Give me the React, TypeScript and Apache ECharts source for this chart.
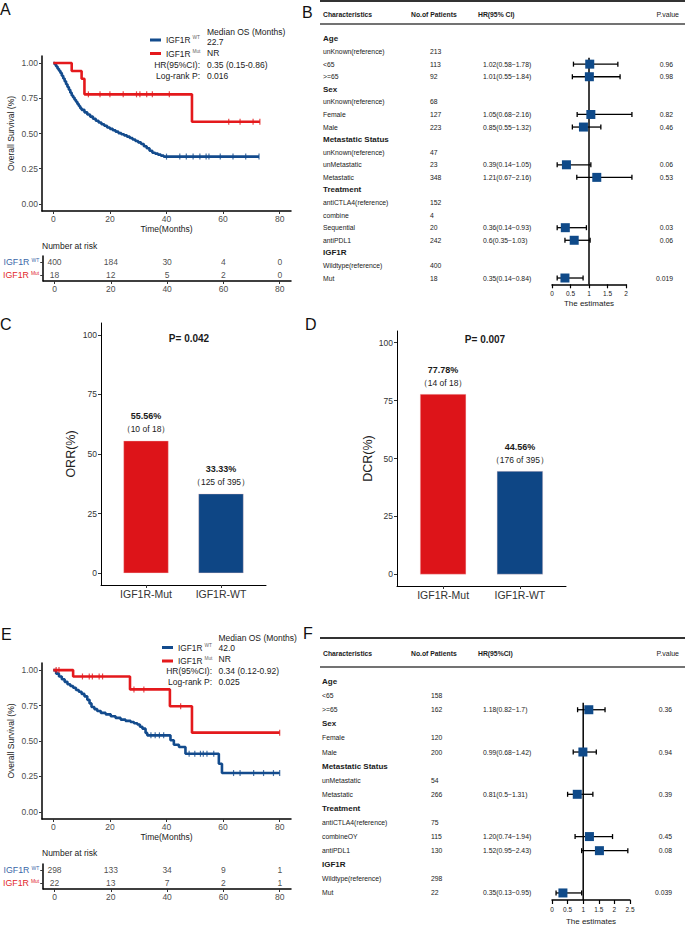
import React, { useEffect, useRef } from "react";
import * as echarts from "echarts";

const FONT = '"Liberation Sans", Arial, Helvetica, sans-serif';
const BLUE = "#134B8D";
const RED = "#E4191C";
const BOX = "#0F4A89";
const INK = "#1a1a1a";
const GREY = "#4d4d4d";
const RISK_BLUE = "#3A67A7";
const RISK_RED = "#E2262A";

// ---------- Panel A (KM) ----------
const aWTTime = [0, 0.5, 1, 1.5, 2, 2.5, 3, 3.5, 4, 4.5, 5, 5.5, 6, 6.5, 7, 7.5, 8, 8.5, 9, 9.5, 10, 11, 12, 13, 14, 15, 16, 17, 18, 19, 20, 21, 22, 23, 24, 25, 26, 27, 28, 29, 30, 31, 32, 33, 34, 35, 36, 37, 38, 39, 72.7];
const aWTSurv = [1, 0.99, 0.975, 0.96, 0.945, 0.93, 0.91, 0.89, 0.87, 0.85, 0.83, 0.81, 0.79, 0.77, 0.755, 0.74, 0.725, 0.71, 0.695, 0.68, 0.668, 0.65, 0.635, 0.62, 0.605, 0.59, 0.578, 0.566, 0.555, 0.543, 0.533, 0.523, 0.513, 0.503, 0.495, 0.487, 0.478, 0.468, 0.457, 0.447, 0.437, 0.425, 0.41, 0.395, 0.378, 0.363, 0.357, 0.35, 0.343, 0.336, 0.336];
const aMutTime = [0, 6.5, 10, 11, 49, 73];
const aMutSurv = [1, 0.944, 0.889, 0.778, 0.583, 0.583];
const aWTCensorT = [40, 44.7, 47, 49.4, 51.8, 54, 55, 59, 63.5, 68, 72.7];
const aWTCensorS = [0.336, 0.336, 0.336, 0.336, 0.336, 0.336, 0.336, 0.336, 0.336, 0.336, 0.336];
const aMutCensorT = [12.4, 16.5, 20, 24.7, 29.4, 30.6, 33, 35, 41, 62, 66, 70.6, 73];
const aMutCensorS = [0.778, 0.778, 0.778, 0.778, 0.778, 0.778, 0.778, 0.778, 0.778, 0.583, 0.583, 0.583, 0.583];
const riskTimes = [0, 20, 40, 60, 80];
const aRiskWT = [400, 184, 30, 4, 0];
const aRiskMut = [18, 12, 5, 2, 0];
const aMedian = ["22.7", "NR"];
const aHR = "0.35 (0.15-0.86)";
const aLogRank = "0.016";

// ---------- Panel E (KM) ----------
const eWTTime = [0, 1, 2, 3, 4, 5, 6, 7, 8, 9, 10, 11, 12, 12.8, 13.5, 14.5, 15.5, 16.8, 18.5, 20.3, 22, 23.8, 25.5, 27.3, 28.5, 29.7, 30.6, 31.5, 32.6, 33.2, 41.4, 42.6, 44.4, 46.7, 58.5, 59.6, 80];
const eWTSurv = [1, 0.975, 0.955, 0.935, 0.917, 0.9, 0.888, 0.875, 0.86, 0.847, 0.832, 0.815, 0.79, 0.765, 0.74, 0.725, 0.712, 0.698, 0.688, 0.675, 0.663, 0.651, 0.642, 0.634, 0.625, 0.616, 0.6, 0.587, 0.557, 0.54, 0.505, 0.474, 0.458, 0.41, 0.34, 0.274, 0.274];
const eMutTime = [0, 7, 27.1, 41.2, 49, 80];
const eMutSurv = [1, 0.955, 0.864, 0.745, 0.559, 0.559];
const eWTCensorT = [34.5, 36, 37.5, 39, 48, 50, 52, 53, 54.3, 56.7, 63.7, 66, 70.8, 74.3, 77.8, 80];
const eWTCensorS = [0.54, 0.54, 0.54, 0.54, 0.41, 0.41, 0.41, 0.41, 0.41, 0.41, 0.274, 0.274, 0.274, 0.274, 0.274, 0.274];
const eMutCensorT = [1, 2, 10.3, 12.7, 13.8, 16.2, 17.4, 28.5, 32, 45, 80];
const eMutCensorS = [1, 1, 0.955, 0.955, 0.955, 0.955, 0.955, 0.864, 0.864, 0.745, 0.559];
const eRiskWT = [298, 133, 34, 9, 1];
const eRiskMut = [22, 13, 7, 2, 1];
const eMedian = ["42.0", "NR"];
const eHR = "0.34 (0.12-0.92)";
const eLogRank = "0.025";

const kmTicksX = [0, 20, 40, 60, 80];
const kmTicksY = [0, 0.25, 0.5, 0.75, 1];

// ---------- Panel B (forest) ----------
const bLabels = ["Age", "unKnown(reference)", "<65", ">=65", "Sex", "unKnown(reference)", "Female", "Male", "Metastatic Status", "unKnown(reference)", "unMetastatic", "Metastatic", "Treatment", "antiCTLA4(reference)", "combine", "Sequential", "antiPDL1", "IGF1R", "Wildtype(reference)", "Mut"];
const bPatients = [null, 213, 113, 92, null, 68, 127, 223, null, 47, 23, 348, null, 152, 4, 20, 242, null, 400, 18];
const bHRText = ["", "", "1.02(0.58−1.78)", "1.01(0.55−1.84)", "", "", "1.05(0.68−2.16)", "0.85(0.55−1.32)", "", "", "0.39(0.14−1.05)", "1.21(0.67−2.16)", "", "", "", "0.36(0.14−0.93)", "0.6(0.35−1.03)", "", "", "0.35(0.14−0.84)"];
const bHR = [null, null, 1.02, 1.01, null, null, 1.05, 0.85, null, null, 0.39, 1.21, null, null, null, 0.36, 0.6, null, null, 0.35];
const bLow = [null, null, 0.58, 0.55, null, null, 0.68, 0.55, null, null, 0.14, 0.67, null, null, null, 0.14, 0.35, null, null, 0.14];
const bHigh = [null, null, 1.78, 1.84, null, null, 2.16, 1.32, null, null, 1.05, 2.16, null, null, null, 0.93, 1.03, null, null, 0.84];
const bP = ["", "", "0.96", "0.98", "", "", "0.82", "0.46", "", "", "0.06", "0.53", "", "", "", "0.03", "0.06", "", "", "0.019"];

// ---------- Panel F (forest) ----------
const fLabels = ["Age", "<65", ">=65", "Sex", "Female", "Male", "Metastatic Status", "unMetastatic", "Metastatic", "Treatment", "antiCTLA4(reference)", "combineOY", "antiPDL1", "IGF1R", "Wildtype(reference)", "Mut"];
const fPatients = [null, 158, 162, null, 120, 200, null, 54, 266, null, 75, 115, 130, null, 298, 22];
const fHRText = ["", "", "1.18(0.82−1.7)", "", "", "0.99(0.68−1.42)", "", "", "0.81(0.5−1.31)", "", "", "1.20(0.74−1.94)", "1.52(0.95−2.43)", "", "", "0.35(0.13−0.95)"];
const fHR = [null, null, 1.18, null, null, 0.99, null, null, 0.81, null, null, 1.2, 1.52, null, null, 0.35];
const fLow = [null, null, 0.82, null, null, 0.68, null, null, 0.5, null, null, 0.74, 0.95, null, null, 0.13];
const fHigh = [null, null, 1.7, null, null, 1.42, null, null, 1.31, null, null, 1.94, 2.43, null, null, 0.95];
const fP = ["", "", "0.36", "", "", "0.94", "", "", "0.39", "", "", "0.45", "0.08", "", "", "0.039"];

// ---------- Panels C / D (bars) ----------
const barCats = ["IGF1R-Mut", "IGF1R-WT"];
const barColors = ["#DD1419", "#0E4685"];
const cValues = [55.56, 33.33];
const cCounts = ["10 of 18", "125 of 395"];
const cPValue = "0.042";
const dValues = [77.78, 44.56];
const dCounts = ["14 of 18", "176 of 395"];
const dPValue = "0.007";
const barTicks = [0, 25, 50, 75, 100];

const zip = (a: number[], b: number[]) => a.map((v, i) => [v, b[i]]);

function txt(x: number, y: number, text: string, o: any = {}) {
  return {
    type: "text",
    x,
    y,
    silent: true,
    style: { text, fontFamily: FONT, fontSize: 8.5, fill: INK, align: "left", verticalAlign: "middle", ...o },
  };
}
function hline(x1: number, x2: number, y: number, w = 1.6, c = "#333") {
  return { type: "line", silent: true, shape: { x1, y1: y, x2, y2: y }, style: { stroke: c, lineWidth: w } };
}

function kmXAxis(gi: number, name: string) {
  return {
    type: "value", gridIndex: gi, min: -4, max: 84,
    name, nameLocation: "middle", nameGap: 13,
    nameTextStyle: { fontSize: 8.5, color: INK, fontFamily: FONT },
    axisLine: { show: true, onZero: false, lineStyle: { color: "#000", width: 1.5 } },
    axisTick: { show: true, customValues: kmTicksX, length: 3, lineStyle: { color: "#333" } },
    axisLabel: { show: true, customValues: kmTicksX, fontSize: 8.5, color: GREY, margin: 3, fontFamily: FONT },
    splitLine: { show: false },
  };
}
function kmYAxis(gi: number) {
  return {
    type: "value", gridIndex: gi, min: -0.05, max: 1.05,
    name: "Overall Survival (%)", nameLocation: "middle", nameGap: 27,
    nameTextStyle: { fontSize: 8.5, color: INK, fontFamily: FONT },
    axisLine: { show: true, onZero: false, lineStyle: { color: "#000", width: 1.5 } },
    axisTick: { show: true, customValues: kmTicksY, length: 3, lineStyle: { color: "#333" } },
    axisLabel: { show: true, customValues: kmTicksY, fontSize: 8.5, color: GREY, margin: 4, fontFamily: FONT, formatter: (v: number) => v.toFixed(2) },
    splitLine: { show: false },
  };
}
function riskYAxis(gi: number) {
  return {
    type: "category", gridIndex: gi, data: ["WT", "Mut"], inverse: true,
    axisLine: { show: true, onZero: false, lineStyle: { color: "#000", width: 1.5 } },
    axisTick: { show: true, alignWithLabel: true, length: 3, lineStyle: { color: "#333" } },
    axisLabel: {
      margin: 4,
      interval: 0,
      formatter: (v: string) => (v === "WT" ? "{bn|IGF1R}{bs|WT}" : "{rn|IGF1R}{rs|Mut}"),
      rich: {
        bn: { fontSize: 8.8, color: RISK_BLUE, fontFamily: FONT },
        bs: { fontSize: 5, color: RISK_BLUE, fontFamily: FONT, verticalAlign: "top", padding: [0, 0, 0, 2] },
        rn: { fontSize: 8.8, color: RISK_RED, fontFamily: FONT },
        rs: { fontSize: 5, color: RISK_RED, fontFamily: FONT, verticalAlign: "top", padding: [0, 0, 0, 2] },
      },
    },
  };
}
function riskSeries(gi: number, wt: number[], mut: number[]) {
  const data = [
    ...riskTimes.map((t, i) => [t, "WT", wt[i]]),
    ...riskTimes.map((t, i) => [t, "Mut", mut[i]]),
  ];
  return {
    type: "scatter", xAxisIndex: gi, yAxisIndex: gi, silent: true,
    symbolSize: 1, itemStyle: { color: "rgba(0,0,0,0)" },
    data,
    label: { show: true, position: "inside", formatter: (p: any) => String(p.value[2]), fontSize: 8.5, color: INK, fontFamily: FONT },
  };
}
function kmLine(gi: number, name: string, t: number[], s: number[], color: string) {
  return {
    type: "line", name, xAxisIndex: gi, yAxisIndex: gi, step: "end", showSymbol: false, silent: true,
    data: zip(t, s), lineStyle: { color, width: 2.6 }, itemStyle: { color }, z: 3,
  };
}
function censor(gi: number, t: number[], s: number[], color: string) {
  return {
    type: "scatter", xAxisIndex: gi, yAxisIndex: gi, silent: true, symbol: "rect", symbolSize: [1.2, 6],
    data: zip(t, s), itemStyle: { color }, z: 4,
  };
}
function kmLegend(left: number, top: number) {
  return {
    left, top, orient: "vertical", data: ["IGF1R WT", "IGF1R Mut"], selectedMode: false,
    icon: "rect", itemWidth: 11, itemHeight: 3, itemGap: 4.5, padding: 0,
    formatter: (n: string) => (n === "IGF1R WT" ? "{n|IGF1R}{s|WT}" : "{n|IGF1R}{s|Mut}"),
    textStyle: {
      fontSize: 8.5, color: INK, fontFamily: FONT,
      rich: {
        n: { fontSize: 8.3, color: INK, fontFamily: FONT, lineHeight: 10 },
        s: { fontSize: 4.8, color: "#666", fontFamily: FONT, verticalAlign: "top", padding: [0, 0, 0, 2] },
      },
    },
  };
}

function forestXAxis(gi: number, max: number, gap: number) {
  return {
    type: "value", gridIndex: gi, min: 0, max, interval: 0.5,
    name: "The estimates", nameLocation: "middle", nameGap: gap,
    nameTextStyle: { fontSize: 8, color: INK, fontFamily: FONT },
    axisLine: { show: true, onZero: false, lineStyle: { color: "#000", width: 1.5 } },
    axisTick: { show: true, length: 4, lineStyle: { color: "#000", width: 1.2 } },
    axisLabel: { fontSize: 6.5, color: INK, margin: 6, fontFamily: FONT },
    splitLine: { show: false },
  };
}
function forestYAxis(gi: number, n: number) {
  return { type: "category", gridIndex: gi, inverse: true, show: false, data: Array.from({ length: n }, (_, i) => String(i)) };
}
function forestSeries(gi: number, labels: string[], patients: (number | null)[], hrText: string[], hr: (number | null)[], lo: (number | null)[], hi: (number | null)[], pv: string[], cols: any) {
  const first = hr.findIndex((v) => v != null);
  return {
    type: "custom", xAxisIndex: gi, yAxisIndex: gi, clip: false, silent: true,
    data: labels.map((_, i) => [0, i]),
    encode: { x: 0, y: 1 },
    renderItem: (params: any, api: any) => {
      const i = params.dataIndex;
      const y = api.coord([0, i])[1];
      const head = patients[i] == null;
      const ch: any[] = [];
      const t = (x: number, text: string, o: any = {}) => ({
        type: "text", x, y,
        style: { text, fontFamily: FONT, fontSize: 6.8, fill: INK, align: "left", verticalAlign: "middle", ...o },
      });
      ch.push(t(cols.name, labels[i], head ? { fontSize: 8, fontWeight: "bold" } : {}));
      if (!head) ch.push(t(cols.n, String(patients[i])));
      if (hrText[i]) ch.push(t(cols.hr, hrText[i]));
      if (pv[i]) ch.push(t(cols.p, pv[i], { align: "right" }));
      if (hr[i] != null) {
        if (i === first) {
          const band = api.size([0, 1])[1];
          const cs = params.coordSys;
          const x1 = api.coord([1, i])[0];
          ch.push({ type: "line", shape: { x1, y1: y - band / 2, x2: x1, y2: cs.y + cs.height }, style: { stroke: "#000", lineWidth: 1.5 } });
        }
        const pl = api.coord([lo[i], i])[0];
        const ph = api.coord([hi[i], i])[0];
        const pm = api.coord([hr[i], i])[0];
        ch.push({ type: "line", shape: { x1: pl, y1: y, x2: ph, y2: y }, style: { stroke: "#000", lineWidth: 1.3 } });
        ch.push({ type: "line", shape: { x1: pl, y1: y - 2.5, x2: pl, y2: y + 2.5 }, style: { stroke: "#000", lineWidth: 1.3 } });
        ch.push({ type: "line", shape: { x1: ph, y1: y - 2.5, x2: ph, y2: y + 2.5 }, style: { stroke: "#000", lineWidth: 1.3 } });
        ch.push({ type: "rect", shape: { x: pm - 4.5, y: y - 4.5, width: 9, height: 9 }, style: { fill: BOX } });
      }
      return { type: "group", children: ch };
    },
  };
}

function barXAxis(gi: number) {
  return {
    type: "value", gridIndex: gi, min: 0.4, max: 2.6,
    axisLine: { show: true, onZero: false, lineStyle: { color: "#000", width: 1 } },
    axisTick: { show: true, customValues: [1, 2], length: 3, lineStyle: { color: "#333" } },
    axisLabel: { show: true, customValues: [1, 2], formatter: (v: number) => barCats[Math.round(v) - 1], fontSize: 10.5, color: "#333", margin: 3, fontFamily: FONT },
    splitLine: { show: false },
  };
}
function barYAxis(gi: number, name: string, gap: number) {
  return {
    type: "value", gridIndex: gi, min: -5, max: 105,
    name, nameLocation: "middle", nameGap: gap,
    nameTextStyle: { fontSize: 12.5, color: "#222", fontFamily: FONT },
    axisLine: { show: true, onZero: false, lineStyle: { color: "#000", width: 1 } },
    axisTick: { show: true, customValues: barTicks, length: 3, lineStyle: { color: "#333" } },
    axisLabel: { show: true, customValues: barTicks, fontSize: 8.5, color: "#333", margin: 4, fontFamily: FONT },
    splitLine: { show: false },
  };
}
function barSeries(gi: number, values: number[], counts: string[], width: number) {
  return {
    type: "bar", xAxisIndex: gi, yAxisIndex: gi, barWidth: width, silent: true,
    data: values.map((v, i) => ({ value: [i + 1, v], itemStyle: { color: barColors[i], borderColor: "#f4d0d0", borderWidth: 0.4 } })),
    label: {
      show: true, position: "top", distance: 5,
      formatter: (p: any) => `{p|${values[p.dataIndex].toFixed(2)}%}\n{c|（${counts[p.dataIndex]}）}`,
      rich: {
        p: { fontSize: 9, fontWeight: "bold", color: INK, lineHeight: 13, fontFamily: FONT },
        c: { fontSize: 8.5, color: INK, lineHeight: 13, fontFamily: FONT },
      },
    },
  };
}

function kmAnnotations(x: number, rx: number, y0: number, median: string[], hrS: string, p: string) {
  return [
    txt(x, y0, "Median OS (Months)"),
    txt(x, y0 + 9.5, median[0]),
    txt(x, y0 + 21, median[1]),
    txt(rx, y0 + 33, "HR(95%CI):", { align: "right" }),
    txt(x, y0 + 33, hrS),
    txt(rx, y0 + 43.5, "Log-rank P:", { align: "right" }),
    txt(x, y0 + 43.5, p),
  ];
}
function tableHeader(y: number, yTop: number, yUnder: number, hrLabel: string) {
  const b = { fontWeight: "bold", fontSize: 6.8 };
  return [
    hline(320, 685, yTop, 1.8, "#333"),
    txt(323, y, "Characteristics", b),
    txt(411, y, "No.of Patients", b),
    txt(478, y, hrLabel, b),
    txt(679, y, "P.value", { fontSize: 7, align: "right" }),
    hline(320, 685, yUnder, 1.6, "#444"),
  ];
}

export default function App() {
  const ref = useRef<HTMLDivElement>(null);
  useEffect(() => {
    if (!ref.current) return;
    const chart = echarts.init(ref.current, undefined, { renderer: "svg" });
    const letter = (x: number, y: number, s: string) => txt(x, y, s, { fontSize: 16, verticalAlign: "top", fill: "#111" });
    const graphic = [
      letter(0, 1, "A"), letter(302, 4, "B"), letter(0, 316, "C"), letter(305, 316, "D"), letter(1, 626, "E"), letter(303, 625, "F"),
      ...kmAnnotations(207, 200, 32, aMedian, aHR, aLogRank),
      ...kmAnnotations(218.5, 212, 638, eMedian, eHR, eLogRank),
      txt(42, 246, "Number at risk"),
      txt(42, 853, "Number at risk"),
      ...tableHeader(14, 1, 24, "HR(95% CI)"),
      ...tableHeader(653, 638, 667, "HR(95%CI)"),
      txt(189, 338, `P= ${cPValue}`, { fontWeight: "bold", fontSize: 10, align: "center" }),
      txt(485, 339, `P= ${dPValue}`, { fontWeight: "bold", fontSize: 10, align: "center" }),
    ];
    const option: any = {
      animation: false,
      textStyle: { fontFamily: FONT },
      grid: [
        { left: 42, top: 56, width: 249, height: 155 },
        { left: 42, top: 256, width: 249, height: 25 },
        { left: 552, top: 32.7, width: 74, height: 251.6 },
        { left: 101, top: 323, width: 165, height: 262 },
        { left: 397, top: 331, width: 169, height: 255 },
        { left: 42, top: 663, width: 249, height: 156 },
        { left: 42, top: 864, width: 249, height: 25 },
        { left: 552, top: 674.5, width: 78, height: 226 },
      ],
      legend: [kmLegend(150, 35), kmLegend(162, 642.5)],
      xAxis: [
        kmXAxis(0, "Time(Months)"),
        { ...kmXAxis(1, ""), name: "" },
        forestXAxis(2, 2, 15),
        barXAxis(3),
        barXAxis(4),
        kmXAxis(5, "Time(Months)"),
        { ...kmXAxis(6, ""), name: "" },
        forestXAxis(7, 2.5, 17),
      ],
      yAxis: [
        kmYAxis(0),
        riskYAxis(1),
        forestYAxis(2, bLabels.length),
        barYAxis(3, "ORR(%)", 24),
        barYAxis(4, "DCR(%)", 23),
        kmYAxis(5),
        riskYAxis(6),
        forestYAxis(7, fLabels.length),
      ],
      series: [
        kmLine(0, "IGF1R WT", aWTTime, aWTSurv, BLUE),
        kmLine(0, "IGF1R Mut", aMutTime, aMutSurv, RED),
        censor(0, aWTCensorT, aWTCensorS, BLUE),
        censor(0, aMutCensorT, aMutCensorS, RED),
        riskSeries(1, aRiskWT, aRiskMut),
        forestSeries(2, bLabels, bPatients, bHRText, bHR, bLow, bHigh, bP, { name: 323, n: 430, hr: 483, p: 673 }),
        barSeries(3, cValues, cCounts, 45),
        barSeries(4, dValues, dCounts, 46),
        kmLine(5, "IGF1R WT", eWTTime, eWTSurv, BLUE),
        kmLine(5, "IGF1R Mut", eMutTime, eMutSurv, RED),
        censor(5, eWTCensorT, eWTCensorS, BLUE),
        censor(5, eMutCensorT, eMutCensorS, RED),
        riskSeries(6, eRiskWT, eRiskMut),
        forestSeries(7, fLabels, fPatients, fHRText, fHR, fLow, fHigh, fP, { name: 322, n: 431, hr: 483, p: 672 }),
      ],
      graphic,
    };
    chart.setOption(option);
    return () => chart.dispose();
  }, []);
  return <div ref={ref} style={{ position: "absolute", left: 0, top: 0, width: 685, height: 926, background: "#fff" }} />;
}
